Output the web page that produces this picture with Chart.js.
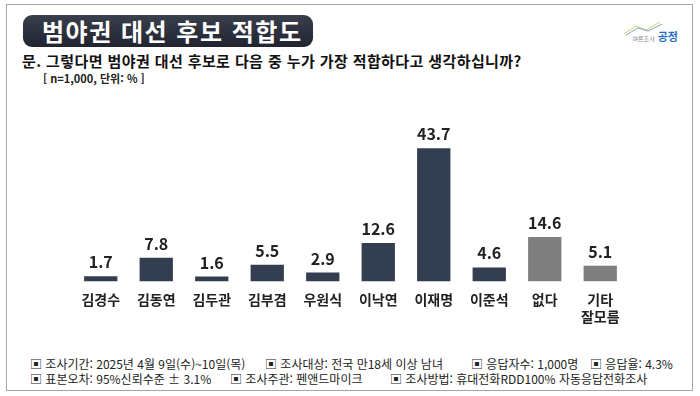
<!DOCTYPE html>
<html lang="ko">
<head>
<meta charset="UTF-8">
<title>범야권 대선 후보 적합도</title>
<script src="https://cdn.jsdelivr.net/npm/chart.js"></script>
<style>
    body {
        margin: 0;
        width: 700px;
        height: 396px;
        background: #fff;
        font-family: "Noto Sans CJK KR", "Noto Sans", sans-serif;
        position: relative;
        overflow: hidden;
    }
    #frame {
        position: absolute;
        left: 6px; top: 4px;
        width: 685px; height: 385px;
        border: 1px solid #a6a6a6;
    }
    #title {
        position: absolute;
        left: 23px; top: 15px;
        width: 290px; height: 32px;
        border-radius: 9px;
        background: linear-gradient(#3a3f4c, #1f2430);
        color: #fff;
        font-weight: bold;
        font-size: 24px;
        line-height: 32px;
        padding-left: 19px;
        box-sizing: border-box;
        letter-spacing: 1.5px;
        white-space: nowrap;
    }
    #question {
        position: absolute;
        left: 22px; top: 50px;
        font-size: 15px;
        font-weight: bold;
        color: #111;
        letter-spacing: 0.4px;
        white-space: nowrap;
    }
    #note {
        position: absolute;
        left: 43px; top: 70px;
        font-size: 11px;
        font-weight: bold;
        color: #222;
    }
    #logo {
        position: absolute;
        left: 622px; top: 20px;
        width: 56px; height: 24px;
    }
    #logo span {
        position: absolute;
        right: 0; bottom: 0;
        font-size: 11px;
        font-weight: bold;
        color: #1e6fc2;
        white-space: nowrap;
    }
    #logo small { font-size: 6px; color: #888; font-weight: normal; }
    .foot {
        position: absolute;
        font-size: 12px;
        color: #222;
        white-space: nowrap;
    }
    #chart-box {
        position: absolute;
        left: 0; top: 87px;
        width: 700px; height: 240px;
    }
</style>
</head>
<body>
<div id="frame"></div>
<div id="title">범야권 대선 후보 적합도</div>
<div id="question">문. 그렇다면 범야권 대선 후보로 다음 중 누가 가장 적합하다고 생각하십니까?</div>
<div id="note">[ n=1,000, 단위: % ]</div>
<div id="logo">
    <svg width="56" height="16" style="position:absolute;left:0;top:0">
        <polyline points="2,14 14,6 24,10 38,2" fill="none" stroke="#c8d86a" stroke-width="1"/>
        <polyline points="4,15 16,8 26,11 40,4" fill="none" stroke="#8aa0c8" stroke-width="1"/>
    </svg>
    <span><small>여론조사</small> 공정</span>
</div>

<div class="foot" style="left:30px; top:355px;">▣ 조사기간: 2025년 4월 9일(수)~10일(목)</div>
<div class="foot" style="left:265px; top:355px;">▣ 조사대상: 전국 만18세 이상 남녀</div>
<div class="foot" style="left:471px; top:355px;">▣ 응답자수: 1,000명</div>
<div class="foot" style="left:590px; top:355px;">▣ 응답율: 4.3%</div>
<div class="foot" style="left:30px; top:370px;">▣ 표본오차: 95%신뢰수준 ± 3.1%</div>
<div class="foot" style="left:230px; top:370px;">▣ 조사주관: 펜앤드마이크</div>
<div class="foot" style="left:390px; top:370px;">▣ 조사방법: 휴대전화RDD100% 자동응답전화조사</div>

<div id="chart-box"><canvas id="chart"></canvas></div>

<script>
    // 후보 / 응답 값
    const candidates = ['김경수', '김동연', '김두관', '김부겸', '우원식', '이낙연', '이재명', '이준석', '없다', ['기타', '잘모름']];
    const values = [1.7, 7.8, 1.6, 5.5, 2.9, 12.6, 43.7, 4.6, 14.6, 5.1];
    const barColors = ['#333f50', '#333f50', '#333f50', '#333f50', '#333f50', '#333f50', '#333f50', '#333f50', '#7f7f7f', '#7f7f7f'];

    // 막대 위에 값 표시
    const valueLabels = {
        id: 'valueLabels',
        afterDatasetsDraw(chart) {
            const ctx = chart.ctx;
            const meta = chart.getDatasetMeta(0);
            ctx.save();
            ctx.font = 'bold 16px "Noto Sans CJK KR", sans-serif';
            ctx.fillStyle = '#222';
            ctx.textAlign = 'center';
            ctx.textBaseline = 'bottom';
            meta.data.forEach((bar, i) => {
                ctx.fillText(values[i].toFixed(1), bar.x, bar.y - 6);
            });
            ctx.restore();
        }
    };

    new Chart(document.getElementById('chart'), {
        type: 'bar',
        data: {
            labels: candidates,
            datasets: [{
                data: values,
                backgroundColor: barColors,
                categoryPercentage: 1,
                barPercentage: 0.6
            }]
        },
        options: {
            responsive: true,
            maintainAspectRatio: false,
            animation: false,
            layout: { padding: { left: 73, right: 72, top: 42, bottom: 0 } },
            plugins: { legend: { display: false }, tooltip: { enabled: false } },
            scales: {
                x: {
                    grid: { display: false },
                    border: { display: false },
                    ticks: {
                        color: '#222',
                        font: { size: 14, weight: 'bold', family: '"Noto Sans CJK KR", sans-serif' },
                        padding: 2
                    }
                },
                y: {
                    display: false,
                    min: 0,
                    max: 50
                }
            }
        },
        plugins: [valueLabels]
    });
</script>
</body>
</html>
